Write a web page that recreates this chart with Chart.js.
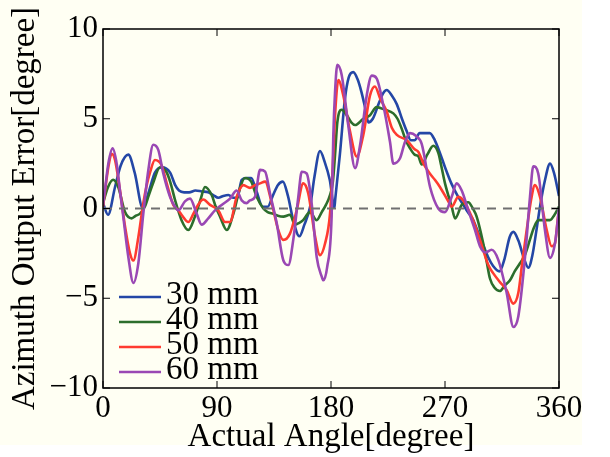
<!DOCTYPE html>
<html>
<head>
<meta charset="utf-8">
<script src="https://cdn.jsdelivr.net/npm/chart.js@4.4.0/dist/chart.umd.min.js"></script>
<style>
  html, body { margin: 0; padding: 0; background: #ffffff; }
  #chart { display: block; }
</style>
</head>
<body>
<canvas id="chart" width="610" height="457"></canvas>
<script>
// readings taken off the figure: [angle in degree, error in degree]
const mm30 = [
  [0, 0.3], [4, -0.35], [9.5, 1.2], [14, 2.4], [20, 3.0], [25, 2.0], [31.5, 0], [36, 0.9], [41, 2.0],
  [46.5, 2.3], [53, 2.0], [57, 1.3], [60, 1.0], [64, 0.9], [68, 0.9], [73, 1.0], [78, 0.95], [83, 0.9],
  [87, 0.75], [91, 0.6], [95, 0.7], [99, 0.75], [103, 0.6], [106, 0.6], [109.5, 1.6], [113.5, 1.7],
  [117, 1.7], [121, 1.0], [126, 0.1], [130, 0.1], [134, 0.7], [138, 1.3], [142, 1.5], [146, 0.7],
  [150, -0.6], [155, -1.55], [159, -0.9], [163.5, 0.1], [167, 1.8], [171.3, 3.2], [175, 2.6], [179, 1.6],
  [182.7, 0.05], [183.3, 0.5], [187, 3.0], [191, 6.1], [194, 7.3], [197.6, 7.6], [201, 7.2], [204, 6.5],
  [207, 5.6], [209.5, 4.8], [213, 5.0], [218, 5.9], [221, 6.4], [224, 6.6], [228, 6.3], [232, 5.8],
  [236, 5.0], [239.8, 4.3], [243, 3.8], [246, 3.8], [250, 4.2], [254, 4.2], [258, 4.2], [262, 3.8],
  [266, 3.1], [270, 2.3], [275, 1.4], [280, 0.7], [284.5, 0.2], [288, -0.2], [292, -0.6], [296, -1.3],
  [300, -2.0], [304, -2.7], [308, -3.2], [313, -3.5], [317, -2.8], [321, -1.6], [324, -1.3], [328, -1.8],
  [332, -2.7], [335.8, -3.3], [339, -2.6], [342, -1.3], [345, 0.1], [349, 1.6], [352.9, 2.5], [356, 2.0],
  [360, 0.7]
];

const mm40 = [
  [0, 0.3], [4, 1.2], [8, 1.6], [12, 1.2], [17.4, -0.2], [22.6, -0.55], [26, -0.4], [29, -0.3], [33, 0.1],
  [36, 0.7], [39.5, 1.4], [45, 2.3], [50, 2.05], [53, 1.5], [56.8, 0.5], [62, -0.65], [67.4, -1.2],
  [72.6, -0.45], [77, 0.5], [80.5, 1.2], [85.8, 0.75], [89, 0.1], [92.4, -0.45], [97.7, -1.2],
  [102.9, -0.3], [108, 1.1], [112, 1.7], [117, 1.5], [121.3, 0.65], [126.6, 0], [130, -0.2],
  [134.5, -0.3], [138, -0.4], [142.4, -0.45], [147.6, -0.35], [151.6, -0.9], [155, -0.8], [158, -0.65],
  [163.4, -0.2], [168.7, -0.65], [172.7, -0.2], [176, 0.2], [179.2, 0.75], [181.5, 1.5], [183.2, 3.0],
  [185, 4.8], [188.4, 5.5], [192.4, 5.2], [196, 4.8], [199, 4.65], [205.5, 5.0], [210.8, 5.2],
  [216, 5.65], [222.6, 5.5], [229.2, 5.3], [232.5, 5.0], [235.8, 4.45], [239, 3.8], [242.4, 3.35],
  [246, 3.0], [249, 2.9], [251.6, 2.45], [256, 3.0], [260.8, 3.5], [264.7, 3.1], [267, 2.4], [270, 1.4],
  [275.3, 0.1], [278, -0.55], [283.2, 0.2], [288.4, 0.35], [292, 0], [295, -0.45], [300.2, -1.95],
  [303, -3.0], [305.5, -3.9], [309, -4.4], [313.4, -4.6], [317, -4.3], [321.3, -4.0], [325, -3.5],
  [329.2, -3.05], [333, -2.6], [337, -1.75], [340, -1.1], [343.7, -0.65], [348, -0.65], [352.9, -0.65],
  [356, -0.4], [360, 0.1]
];

const mm50 = [
  [0, 0.1], [2, 1.2], [4.2, 2.3], [6.8, 3.05], [9.5, 2.7], [13.4, 1.0], [17.4, -1.0], [21.3, -2.5],
  [24, -2.9], [27.9, -1.6], [31.8, 0.3], [34.5, 1.3], [37.1, 2.0], [41, 2.7], [46.3, 2.4], [50.3, 1.4],
  [55.5, 0.2], [59.5, -0.1], [62, -0.35], [67.4, -0.75], [71.3, -0.3], [75, 0.2], [79.2, 0.5],
  [84.5, 0.2], [91, -0.1], [96.3, -0.75], [100.3, -0.75], [105.5, 0.65], [110.8, 1.3], [116, 1.15],
  [120, 1.3], [124, 1.4], [128, 1.5], [133.2, 0.3], [138.4, -1.2], [142.4, -1.75], [147.6, -1.4],
  [152.9, -0.1], [158.1, 1.4], [162, 0.85], [167.4, -1.55], [171.3, -2.6], [175.3, -1.95], [179.2, -0.3],
  [181.5, 2.5], [183.2, 5.2], [185.8, 7.15], [189.7, 6.3], [195, 4.3], [200.3, 2.9], [205.5, 4.1],
  [210.8, 6.3], [214.7, 6.8], [218.7, 6.15], [224, 5.4], [228, 4.5], [232, 4.1], [239.8, 3.8], [246, 3.3],
  [249, 3.15], [253, 2.5], [258, 1.95], [262, 1.6], [266, 1.2], [272.6, 0.4], [275.3, 0.1], [280.5, 0.65],
  [284.4, 0.45], [291, -0.45], [297.6, -1.75], [304.2, -3.15], [308, -3.6], [313.4, -4.1], [318.7, -4.55],
  [323.9, -5.3], [327.9, -4.7], [331, -3.0], [334.5, -1.2], [338, 0.5], [341, 1.3], [345, 0.65],
  [350.3, -1.2], [354.2, -2.1], [356.8, -1.95], [359.4, -0.4], [360, -0.3]
];

const mm60 = [
  [0, 0.2], [2, 1.3], [4.2, 2.5], [7.6, 3.35], [10.8, 2.5], [13.4, 1.0], [16, -0.45], [20, -2.7],
  [24, -4.15], [27.9, -3.05], [31.8, -0.3], [35.8, 2.15], [39.7, 3.55], [43.7, 3.25], [47.6, 1.95],
  [52.9, 0.65], [56.8, 0.1], [59.5, -0.1], [64.7, 0.4], [68.7, 0.55], [74, -0.3], [77.9, -0.9],
  [83.1, -0.55], [88.4, -0.1], [93.7, 0.2], [100.3, 0.55], [105.5, 1.0], [109.5, 0.45], [113.4, 0.3],
  [116, 0.45], [120, 0.65], [124, 2.15], [128, 2.05], [131.8, 0.85], [137.1, -0.8], [142.4, -2.9],
  [146.3, -3.15], [150.2, -1.75], [154.2, 0.65], [156.9, 2.05], [160.8, 1.95], [164.7, 0.3],
  [168.7, -2.7], [172.7, -3.8], [174, -4.0], [177, -3.25], [180.5, -0.45], [181.8, 4.0], [183.2, 6.5],
  [185, 8.0], [188.4, 7.45], [193.6, 4.65], [199, 2.25], [203, 3.55], [208.2, 6.3], [212.2, 7.4],
  [216, 7.25], [221.3, 5.75], [226.6, 3.7], [229.2, 2.5], [234.5, 2.8], [238.4, 3.7], [242.4, 4.2],
  [247, 4.05], [251.6, 3.6], [258.2, 1.2], [264.7, 0], [270, -0.2], [275.3, 0.65], [279.2, 1.4],
  [283.2, 1.0], [288.4, -0.1], [293.7, -1.2], [297.6, -2.1], [302, -2.45], [306.8, -2.3], [312, -2.85],
  [318.7, -4.7], [324, -6.6], [327.9, -6.0], [333.2, -2.7], [337.1, 0.65], [339.7, 2.35], [343.6, 1.95],
  [348.9, -1.2], [352.9, -2.75], [356.8, -1.95], [360, 0.0]
];

const zeroLine = [[0, 0], [360, 0]];

const seriesLabels = ["30 mm", "40 mm", "50 mm", "60 mm"];
const xTicks = [0, 90, 180, 270, 360];
const yTicks = [-10, -5, 0, 5, 10];

const SERIF = '"Liberation Serif", "DejaVu Serif", serif';
const colors = ["#2447a6", "#2c6e2c", "#ff3b30", "#9a48b4"];

function toPoints(pairs) {
  return pairs.map(([x, y]) => ({ x, y }));
}

function lineDataset(label, pairs, color, order) {
  return {
    label,
    data: toPoints(pairs),
    borderColor: color,
    backgroundColor: color,
    borderWidth: 2.6,
    pointRadius: 0,
    cubicInterpolationMode: "monotone",
    fill: false,
    order,
  };
}

const backgroundPlugin = {
  id: "paper",
  beforeDraw(chart) {
    const ctx = chart.ctx;
    ctx.save();
    ctx.fillStyle = "#ffffff";
    ctx.fillRect(0, 0, chart.width, chart.height);
    ctx.fillStyle = "#fffff3";
    ctx.fillRect(0, 0, 582, 445);
    ctx.restore();
  },
};

const boxPlugin = {
  id: "matlabBox",
  afterDatasetsDraw(chart) {
    const { ctx, chartArea } = chart;
    const xs = chart.scales.x;
    const ys = chart.scales.y;
    const len = 7;
    ctx.save();
    ctx.strokeStyle = "#000000";
    ctx.lineWidth = 1.5;
    ctx.strokeRect(chartArea.left, chartArea.top, chartArea.right - chartArea.left, chartArea.bottom - chartArea.top);
    ctx.lineWidth = 1;
    ctx.beginPath();
    xTicks.forEach((v) => {
      const px = xs.getPixelForValue(v);
      ctx.moveTo(px, chartArea.bottom);
      ctx.lineTo(px, chartArea.bottom - len);
      ctx.moveTo(px, chartArea.top);
      ctx.lineTo(px, chartArea.top + len);
    });
    yTicks.forEach((v) => {
      const py = ys.getPixelForValue(v);
      ctx.moveTo(chartArea.left, py);
      ctx.lineTo(chartArea.left + len, py);
      ctx.moveTo(chartArea.right, py);
      ctx.lineTo(chartArea.right - len, py);
    });
    ctx.stroke();

    // legend, inside the lower left corner
    const entries = chart.data.datasets.filter((d) => seriesLabels.includes(d.label));
    entries.forEach((d, i) => {
      const y = chartArea.bottom - 91 + i * 25;
      ctx.strokeStyle = d.borderColor;
      ctx.lineWidth = 2.6;
      ctx.beginPath();
      ctx.moveTo(chartArea.left + 16, y);
      ctx.lineTo(chartArea.left + 58, y);
      ctx.stroke();
      ctx.fillStyle = "#000000";
      ctx.font = `33px ${SERIF}`;
      ctx.textBaseline = "middle";
      ctx.textAlign = "left";
      ctx.fillText(d.label, chartArea.left + 63, y - 2);
    });
    ctx.restore();
  },
};

new Chart(document.querySelector("#chart"), {
  type: "line",
  data: {
    datasets: [
      {
        label: "zero",
        data: toPoints(zeroLine),
        borderColor: "#707070",
        borderWidth: 2,
        borderDash: [9, 7],
        pointRadius: 0,
        fill: false,
        order: 0,
      },
      lineDataset(seriesLabels[0], mm30, colors[0], 4),
      lineDataset(seriesLabels[1], mm40, colors[1], 3),
      lineDataset(seriesLabels[2], mm50, colors[2], 2),
      lineDataset(seriesLabels[3], mm60, colors[3], 1),
    ],
  },
  options: {
    responsive: false,
    animation: false,
    layout: { padding: { top: 29, right: 51, left: 0, bottom: 0 } },
    plugins: { legend: { display: false }, tooltip: { enabled: false } },
    scales: {
      x: {
        type: "linear",
        min: 0,
        max: 360,
        afterBuildTicks: (scale) => { scale.ticks = xTicks.map((value) => ({ value })); },
        afterFit: (scale) => { scale.height = 69; },
        grid: { display: false, drawTicks: false },
        border: { display: false },
        ticks: { color: "#000000", padding: 2, maxRotation: 0, font: { family: SERIF, size: 31 } },
        title: {
          display: true,
          text: "Actual Angle[degree]",
          color: "#000000",
          font: { family: SERIF, size: 33 },
          padding: { top: 0, bottom: 0 },
        },
      },
      y: {
        min: -10,
        max: 10,
        afterBuildTicks: (scale) => { scale.ticks = yTicks.map((value) => ({ value })); },
        afterFit: (scale) => { scale.width = 103; },
        grid: { display: false, drawTicks: false },
        border: { display: false },
        ticks: {
          color: "#000000",
          padding: 5,
          font: { family: SERIF, size: 31 },
          callback: (v) => (v < 0 ? "\u2212" + Math.abs(v) : String(v)),
        },
        title: {
          display: true,
          text: "Azimuth Output Error[degree]",
          color: "#000000",
          font: { family: SERIF, size: 33 },
          padding: { top: 6, bottom: 0 },
        },
      },
    },
  },
  plugins: [backgroundPlugin, boxPlugin],
});
</script>
</body>
</html>
